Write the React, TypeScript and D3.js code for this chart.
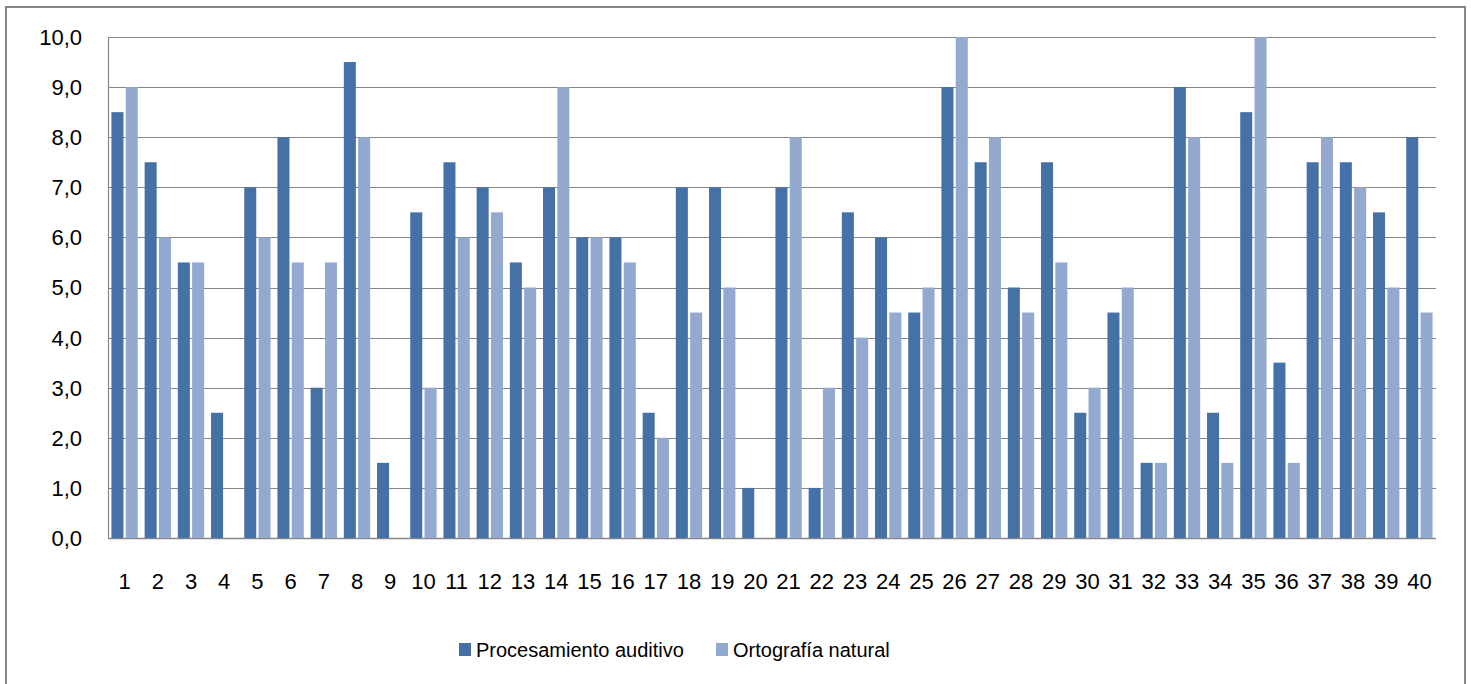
import React from 'react'
import * as d3 from 'd3'

// categories 1..40 and the two series
const categories = d3.range(1, 41).map(String)
const procesamiento = [
  8.5, 7.5, 5.5, 2.5, 7.0, 8.0, 3.0, 9.5, 1.5, 6.5,
  7.5, 7.0, 5.5, 7.0, 6.0, 6.0, 2.5, 7.0, 7.0, 1.0,
  7.0, 1.0, 6.5, 6.0, 4.5, 9.0, 7.5, 5.0, 7.5, 2.5,
  4.5, 1.5, 9.0, 2.5, 8.5, 3.5, 7.5, 7.5, 6.5, 8.0
]
const ortografia = [
  9.0, 6.0, 5.5, 0, 6.0, 5.5, 5.5, 8.0, 0, 3.0,
  6.0, 6.5, 5.0, 9.0, 6.0, 5.5, 2.0, 4.5, 5.0, 0,
  8.0, 3.0, 4.0, 4.5, 5.0, 10.0, 8.0, 4.5, 5.5, 3.0,
  5.0, 1.5, 8.0, 1.5, 10.0, 1.5, 8.0, 7.0, 5.0, 4.5
]
const seriesNames = ['Procesamiento auditivo', 'Ortografía natural']
const seriesColors = ['#4571A6', '#94A9D0']
const yTicks = d3.range(0, 11)

const W = 1471
const H = 684
const plot = { left: 108, right: 1436, top: 37, bottom: 538 }
const font = '"Liberation Sans", Arial, sans-serif'

export default function App () {
  const x = d3.scaleBand<string>()
    .domain(categories)
    .range([plot.left, plot.right])

  const xInner = d3.scaleBand<string>()
    .domain(['0', '1'])
    .range([0, x.bandwidth()])
    .paddingInner(0.16)
    .paddingOuter(0.24)

  const y = d3.scaleLinear()
    .domain([0, 10])
    .range([plot.bottom, plot.top])

  const fmt = (v: number) => d3.format('.1f')(v).replace('.', ',')
  const data = [procesamiento, ortografia]

  // legend layout
  const legendItems = [
    { x: 459, textX: 476 },
    { x: 716, textX: 733 }
  ]

  return (
    <svg width={W} height={H} style={{ position: 'absolute', left: 0, top: 0, background: '#fff' }}>
      {/* outer chart border */}
      <rect x={6} y={7} width={1459} height={H} fill='#fff' stroke='#868686' strokeWidth={2} />

      {/* gridlines */}
      {yTicks.map(t => (
        <line key={'g' + t} x1={plot.left} x2={plot.right}
          y1={Math.round(y(t)) + 0.5} y2={Math.round(y(t)) + 0.5}
          stroke='#868686' strokeWidth={t === 0 ? 1.5 : 1.2} />
      ))}
      <line x1={plot.left + 0.5} x2={plot.left + 0.5} y1={plot.top} y2={plot.bottom}
        stroke='#868686' strokeWidth={1.2} />

      {/* bars */}
      {data.map((vals, si) => (
        <g key={'s' + si} fill={seriesColors[si]}>
          {vals.map((v, i) => (
            <rect key={i}
              x={(x(categories[i]) as number) + (xInner(String(si)) as number)}
              y={y(v)}
              width={xInner.bandwidth()}
              height={y(0) - y(v)} />
          ))}
        </g>
      ))}

      {/* y tick labels */}
      {yTicks.map(t => (
        <text key={'yl' + t} x={82} y={y(t)} dy='0.36em' textAnchor='end'
          fontFamily={font} fontSize={22} fill='#000'>{fmt(t)}</text>
      ))}

      {/* x tick labels */}
      {categories.map(c => (
        <text key={'xl' + c} x={(x(c) as number) + x.bandwidth() / 2} y={589}
          textAnchor='middle' fontFamily={font} fontSize={22} fill='#000'>{c}</text>
      ))}

      {/* legend */}
      {seriesNames.map((name, i) => (
        <g key={'lg' + i}>
          <rect x={legendItems[i].x} y={643} width={12} height={13} fill={seriesColors[i]} />
          <text x={legendItems[i].textX} y={657} fontFamily={font} fontSize={20} fill='#000'>{name}</text>
        </g>
      ))}
    </svg>
  )
}
